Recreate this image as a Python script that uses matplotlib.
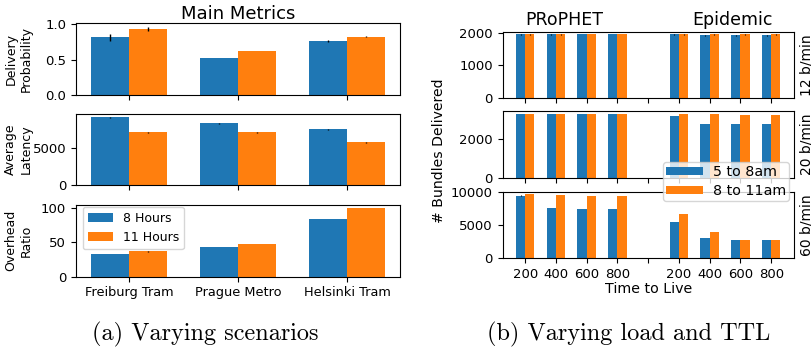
import numpy as np
import matplotlib
matplotlib.use('Agg')
import matplotlib.pyplot as plt

# ---- data: (a) varying scenarios ----
scenarios = ['Freiburg Tram', 'Prague Metro', 'Helsinki Tram']
dur_labels = ['8 Hours', '11 Hours']
deliv_8 = [0.81, 0.52, 0.76]
deliv_11 = [0.93, 0.62, 0.82]
deliv_err_8 = [0.045, 0.004, 0.02]
deliv_err_11 = [0.03, 0.006, 0.008]
lat_8 = [9200, 8420, 7610]
lat_11 = [7160, 7160, 5850]
lat_err_8 = [80, 70, 70]
lat_err_11 = [90, 60, 70]
ovh_8 = [33, 43, 84]
ovh_11 = [37, 47.5, 100]
ovh_err_8 = [0.3, 0.2, 0.3]
ovh_err_11 = [0.8, 0.2, 0.3]

# ---- data: (b) varying load and TTL ----
ttl_labels = ['200', '400', '600', '800', '', '200', '400', '600', '800']
time_labels = ['5 to 8am', '8 to 11am']
load_labels = ['12 b/min', '20 b/min', '60 b/min']
# PRoPHET x4, gap, Epidemic x4
b12_5 = [1950, 1950, 1950, 1950, 0, 1950, 1920, 1920, 1920]
b12_8 = [1950, 1950, 1950, 1950, 0, 1950, 1950, 1950, 1950]
b20_5 = [3300, 3300, 3300, 3300, 0, 3195, 2785, 2785, 2785]
b20_8 = [3300, 3300, 3300, 3300, 0, 3300, 3300, 3245, 3245]
b60_5 = [9500, 7620, 7470, 7470, 0, 5490, 3050, 2745, 2745]
b60_8 = [9760, 9600, 9450, 9450, 0, 6710, 3960, 2745, 2745]
b12_err = [15, 15, 5, 5, 0, 15, 10, 10, 10]
b20_err = [10, 10, 10, 20, 0, 20, 20, 20, 20]
b60_err = [40, 40, 40, 40, 0, 40, 60, 40, 40]

C1 = '#1f77b4'
C2 = '#ff7f0e'
W, H = 812, 352

def rect(x0, yt, x1, yb):
    return [x0 / W, 1 - yb / H, (x1 - x0) / W, (yb - yt) / H]

fig = plt.figure(figsize=(W / 100, H / 100), dpi=100)

# ---------------- left panel ----------------
xa = np.arange(len(scenarios))
bw = 0.35
left_axes = [fig.add_axes(rect(76, 23.3, 400, 95)),
             fig.add_axes(rect(76, 114, 400, 185.3)),
             fig.add_axes(rect(76, 205, 400, 276.7))]
left_data = [(deliv_8, deliv_11, deliv_err_8, deliv_err_11, 'Delivery\nProbability'),
             (lat_8, lat_11, lat_err_8, lat_err_11, 'Average\nLatency'),
             (ovh_8, ovh_11, ovh_err_8, ovh_err_11, 'Overhead\nRatio')]
for ax, (v8, v11, e8, e11, lab) in zip(left_axes, left_data):
    ax.bar(xa, v8, -bw, align='edge', color=C1, yerr=e8, ecolor='black',
           error_kw=dict(lw=1), label=dur_labels[0])
    ax.bar(xa, v11, bw, align='edge', color=C2, yerr=e11, ecolor='black',
           error_kw=dict(lw=1), label=dur_labels[1])
    ax.set_ylabel(lab, fontsize=9)
    ax.set_xticks(xa)
    ax.set_xticklabels([])
    ax.tick_params(labelsize=9.5)
left_axes[0].set_ylim(0, 1.01)
left_axes[0].set_yticks([0, 0.5, 1.0])
left_axes[1].set_ylim(0, 9650)
left_axes[1].set_yticks([0, 5000])
left_axes[2].set_ylim(0, 104.5)
left_axes[2].set_yticks([0, 50, 100])
left_axes[2].set_xticklabels(scenarios, fontsize=9.3)
left_axes[2].legend(loc='upper left', fontsize=9,
                    bbox_to_anchor=(82.7 / W, 1 - 207 / H),
                    bbox_transform=fig.transFigure, borderaxespad=0)
left_axes[0].set_title('Main Metrics', fontsize=13, pad=3)
for ax in left_axes:
    ax.yaxis.set_label_coords(-0.135, 0.5)

# ---------------- right panel ----------------
xb = np.arange(len(ttl_labels))
bw2 = 0.3
right_axes = [fig.add_axes(rect(502.7, 32.3, 793.7, 97.7)),
              fig.add_axes(rect(502.7, 111, 793.7, 178.3)),
              fig.add_axes(rect(502.7, 191.7, 793.7, 258))]
right_data = [(b12_5, b12_8, b12_err), (b20_5, b20_8, b20_err), (b60_5, b60_8, b60_err)]
for ax, (v5, v8, err), lab in zip(right_axes, right_data, load_labels):
    ax.bar(xb, v5, -bw2, align='edge', color=C1, yerr=err, ecolor='black',
           error_kw=dict(lw=0.8), label=time_labels[0])
    ax.bar(xb, v8, bw2, align='edge', color=C2, yerr=err, ecolor='black',
           error_kw=dict(lw=0.8), label=time_labels[1])
    ax.set_xticks(xb)
    ax.set_xticklabels([])
    ax.tick_params(labelsize=9.5)
    ax.text(1.02, 0.5, lab, transform=ax.transAxes, rotation=90,
            ha='left', va='center', fontsize=10)
right_axes[0].set_ylim(0, 2010)
right_axes[0].set_yticks([0, 1000, 2000])
right_axes[1].set_ylim(0, 3450)
right_axes[1].set_yticks([0, 2000])
right_axes[2].set_ylim(0, 10090)
right_axes[2].set_yticks([0, 5000, 10000])
right_axes[2].set_xticklabels(ttl_labels, fontsize=9.5)
right_axes[2].set_xlabel('Time to Live', fontsize=10.3, labelpad=1)
right_axes[0].text(564 / W, 1 - 20 / H, 'PRoPHET', transform=fig.transFigure,
                   ha='center', va='center', fontsize=12.5)
right_axes[0].text(733 / W, 1 - 20 / H, 'Epidemic', transform=fig.transFigure,
                   ha='center', va='center', fontsize=12.5)
fig.text(439 / W, 1 - 150.5 / H, '# Bundles Delivered', rotation=90,
         ha='center', va='center', fontsize=10.1)
h, l = right_axes[2].get_legend_handles_labels()
fig.legend(h, l, loc='upper right', bbox_to_anchor=(789 / W, 1 - 162 / H),
           fontsize=10.3, handlelength=2.6, handleheight=0.45, borderaxespad=0,
           borderpad=0.2, labelspacing=0.35, handletextpad=0.7)

# ---------------- captions ----------------
fig.text(205 / W, 1 - 334 / H, '(a) Varying scenarios', family='cmr10',
         ha='center', va='center', fontsize=17.5)
fig.text(628.5 / W, 1 - 334 / H, '(b) Varying load and TTL', family='cmr10',
         ha='center', va='center', fontsize=17.5)

fig.savefig('out.png', dpi=100)
